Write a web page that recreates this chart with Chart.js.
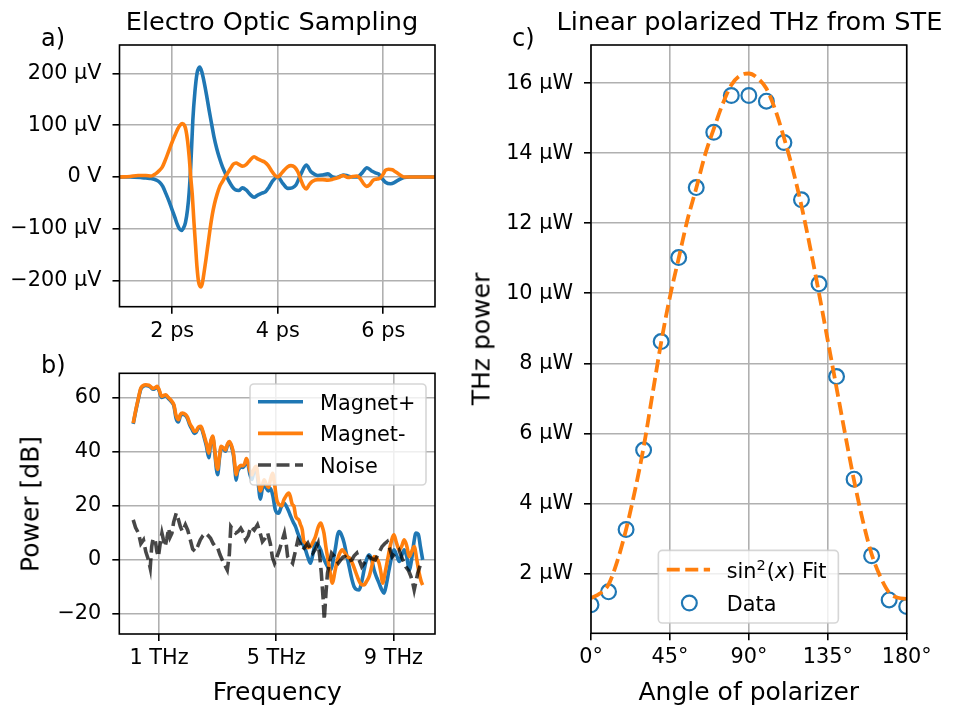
<!DOCTYPE html>
<html><head><meta charset="utf-8">
<script src="https://cdn.jsdelivr.net/npm/chart.js@4.4.1/dist/chart.umd.min.js"></script>
<style>
html,body{margin:0;padding:0;background:#fff;}
#wrap{position:relative;width:953px;height:710px;overflow:hidden;background:#fff;}
canvas{position:absolute;left:0;top:0;}
.t{position:absolute;white-space:nowrap;color:#000;font-family:"DejaVu Sans",sans-serif;line-height:1;}
</style></head><body>
<div id="wrap">
<canvas id="ca" width="953" height="710"></canvas>
<canvas id="cb" width="953" height="710"></canvas>
<canvas id="cc" width="953" height="710"></canvas>
<div class="t" style="font-size:25.6px;left:272px;top:9px;transform:translateX(-50%)">Electro Optic Sampling</div>
<div class="t" style="font-size:25.6px;left:749.5px;top:9px;transform:translateX(-50%)">Linear polarized THz from STE</div>
<div class="t" style="font-size:24px;left:41px;top:26.4px">a)</div>
<div class="t" style="font-size:24px;left:41px;top:352.7px">b)</div>
<div class="t" style="font-size:24px;left:512px;top:26.4px">c)</div>
<div class="t" style="font-size:25px;left:277.3px;top:679px;transform:translateX(-50%)">Frequency</div>
<div class="t" style="font-size:25px;left:748.8px;top:679px;transform:translateX(-50%)">Angle of polarizer</div>
<div class="t" style="font-size:25px;left:30px;top:503.7px;transform:translate(-50%,-50%) rotate(-90deg)">Power [dB]</div>
<div class="t" style="font-size:25px;left:481px;top:339px;transform:translate(-50%,-50%) rotate(-90deg)">THz power</div>
</div>
<script>
// ---------- Panel a: Electro Optic Sampling (time in ps, signal in µV) ----------
const tPlus = [1.0,1.2,1.4,1.5,1.6,1.7,1.76,1.82,1.88,1.94,2.0,2.05,2.09,2.13,2.17,2.21,2.25,2.29,2.32,2.35,2.39,2.43,2.47,2.52,2.56,2.6,2.65,2.7,2.75,2.79,2.84,2.89,2.95,3.01,3.07,3.14,3.2,3.26,3.33,3.4,3.48,3.55,3.62,3.7,3.77,3.83,3.9,4.0,4.1,4.19,4.27,4.34,4.44,4.54,4.63,4.7,4.76,4.85,4.95,5.04,5.1,5.17,5.25,5.33,5.42,5.5,5.6,5.69,5.79,5.85,5.91,5.97,6.04,6.14,6.22,6.3,6.39,6.5,7.0];
const vPlus = [0,0,-1,-2,-3,-6,-10,-18,-32,-47,-64,-78,-90,-99,-103,-99,-88,-62,-30,20,110,165,200,212,203,185,158,128,100,78,56,38,20,6,-7,-19,-25,-26,-21,-25,-34,-39,-35,-31,-28,-20,-8,0,-13,-22,-21,-16,6,23,10,5,3,4,6,0,-1,1,4,2,0,0,8,18,11,8,6,-2,-10,-13,-10,-5,-1,0,0];
const tMinus = [1.0,1.2,1.35,1.5,1.6,1.65,1.69,1.75,1.81,1.87,1.94,2.0,2.05,2.1,2.15,2.19,2.23,2.26,2.29,2.32,2.35,2.38,2.41,2.44,2.47,2.5,2.54,2.57,2.6,2.64,2.68,2.72,2.76,2.8,2.85,2.9,2.95,3.0,3.04,3.1,3.16,3.21,3.27,3.33,3.4,3.47,3.55,3.62,3.68,3.75,3.82,3.88,3.94,4.0,4.06,4.12,4.19,4.25,4.32,4.38,4.44,4.49,4.54,4.6,4.66,4.76,4.85,4.95,5.05,5.15,5.24,5.33,5.42,5.5,5.57,5.62,5.68,5.74,5.81,5.88,5.94,6.0,6.04,6.1,6.17,6.23,6.29,6.35,6.4,6.5,7.0];
const vMinus = [0,1,3,3,2,4,6.5,12,19,33,52,68,80,92,100,103,100,90,70,40,0,-35,-85,-130,-175,-203,-212,-205,-186,-158,-128,-98,-72,-52,-33,-18,-9,0,6,16,25,27,24,21,24,32,39,35,32,29,22,12,4,0,6,13,20,22,19,10,-6,-18,-23,-14,-8,-5,-5,-6,-4,-1,3,-1,1,2,-4,-12,-18,-15,-6,-4,-2,6,13,15,14,10,6,2,0,0,0];
const aYTicks = [-200,-100,0,100,200];
const aYTickLabels = ['\u2212200 µV','\u2212100 µV','0 V','100 µV','200 µV'];
const aXTicks = [2,4,6];
const aXTickLabels = ['2 ps','4 ps','6 ps'];

// ---------- Panel b: spectra (THz, dB) ----------
const freqPlus = [0.12,0.2,0.28,0.38,0.45,0.55,0.65,0.72,0.8,0.88,0.94,1.0,1.09,1.16,1.23,1.3,1.38,1.45,1.51,1.58,1.66,1.73,1.8,1.9,1.97,2.05,2.14,2.2,2.26,2.35,2.43,2.5,2.55,2.62,2.7,2.76,2.83,2.9,2.96,3.0,3.06,3.12,3.2,3.27,3.34,3.4,3.47,3.54,3.6,3.63,3.68,3.74,3.8,3.86,3.93,3.98,4.03,4.1,4.17,4.22,4.27,4.32,4.38,4.46,4.52,4.59,4.66,4.74,4.8,4.88,4.97,5.02,5.08,5.17,5.26,5.34,5.43,5.5,5.58,5.66,5.75,5.83,5.92,6.0,6.08,6.17,6.25,6.34,6.43,6.52,6.6,6.69,6.78,6.86,6.95,7.03,7.09,7.15,7.22,7.32,7.4,7.49,7.58,7.66,7.75,7.83,7.92,8.0,8.08,8.17,8.26,8.34,8.43,8.51,8.6,8.68,8.76,8.85,8.93,9.02,9.1,9.2,9.28,9.37,9.46,9.54,9.62,9.7,9.77,9.85,9.92,10.0];
const dbPlus = [50.3,54.7,58.7,63.2,64.1,64.5,64.3,63.8,63.1,63.5,63.9,62.7,60.1,60.4,60.8,60.0,59.0,58.1,56.9,52.5,51.0,53.3,53.9,53.4,52.3,49.9,48.0,46.8,47.1,48.8,49.0,47.0,45.0,42.0,37.8,43.0,45.4,40.2,33.5,31.5,37.2,41.5,41.0,40.2,42.6,43.4,42.0,38.8,32.5,29.5,32.5,33.8,34.4,34.2,35.2,36.8,35.7,31.8,29.8,31.8,33.4,33.8,29.0,22.5,26,28.5,26.5,25.5,26.5,24,18.5,17.5,17.3,19.5,21,20,17.9,16,14,12.3,9.5,7.4,5.5,3.7,1,-1.2,2,6.2,5.5,3.7,1,-1.2,-3,-3.7,0,4.9,9,10.5,9.5,6.2,2,-2.5,-7,-9.9,-11,-11.1,-8,-3.7,0,1.9,0,-3.7,-6.5,-8.6,-11,-12.3,-9,-3.7,0.5,3.7,2,-0.6,1.5,3.7,1,-3.7,0,6.5,9.9,9.5,5,0];
const freqMinus = [0.12,0.2,0.28,0.38,0.45,0.55,0.65,0.72,0.8,0.88,0.94,1.0,1.09,1.16,1.23,1.3,1.38,1.45,1.51,1.58,1.66,1.73,1.8,1.9,1.97,2.05,2.14,2.2,2.26,2.35,2.43,2.5,2.55,2.62,2.7,2.76,2.83,2.9,2.96,3.0,3.06,3.12,3.2,3.27,3.34,3.4,3.47,3.54,3.6,3.63,3.68,3.74,3.8,3.86,3.93,3.98,4.03,4.1,4.17,4.22,4.27,4.32,4.38,4.46,4.52,4.59,4.66,4.74,4.8,4.88,4.95,5.02,5.1,5.19,5.26,5.3,5.43,5.48,5.55,5.6,5.67,5.77,5.83,5.89,5.94,6.0,6.08,6.17,6.25,6.34,6.43,6.52,6.58,6.63,6.7,6.75,6.83,6.92,7.0,7.09,7.17,7.26,7.35,7.43,7.52,7.6,7.68,7.77,7.88,8.0,8.08,8.17,8.26,8.34,8.43,8.51,8.58,8.63,8.72,8.8,8.9,9.02,9.1,9.2,9.28,9.37,9.46,9.54,9.62,9.71,9.8,9.88,9.95,10.0];
const dbMinus = [50.6,55,59,63.5,64.4,64.8,64.6,64.1,63.4,63.8,64.2,63,60.5,60.8,61.1,60.3,59.4,58.5,57.3,53.5,51.9,53.8,54.3,53.8,52.8,50.5,48.8,47.5,47.6,49.2,49.4,47.5,45.7,43,39.5,43.5,45.8,41,35,33.5,38,42,41.5,40.7,43,43.8,42.5,39.5,34,31.5,33.5,34.5,35,34.8,35.8,37.5,36.4,33,31.5,33,34.2,34.6,30.5,25.5,27.5,29.6,28,26.8,29.5,32,27.5,22.2,20.5,20,22.2,23,24.7,23.5,20.5,20,16,14.8,13,11.1,7,6.2,4.5,4.9,6.5,8.6,12,13.6,12,9.9,4.5,1.2,-4,-8.6,-4.5,0,2.5,3.7,2.5,1.2,0.5,-1.2,-3.5,-6.2,-8.8,-9.3,-8,-6.2,-2.5,1.2,0.5,-1.2,-5,-8.6,-4.5,0,5.5,9.3,6.5,3.7,5,7.4,5,1.2,3,4.9,0,-4.9,-8,-9.3];
const freqNoise = [0.12,0.2,0.3,0.38,0.47,0.55,0.64,0.7,0.75,0.8,0.87,0.93,0.98,1.04,1.1,1.16,1.21,1.27,1.33,1.38,1.44,1.5,1.59,1.66,1.73,1.8,1.9,1.98,2.07,2.15,2.24,2.32,2.41,2.5,2.59,2.68,2.76,2.85,2.92,2.99,3.08,3.16,3.25,3.33,3.4,3.45,3.53,3.62,3.7,3.79,3.88,3.96,4.05,4.13,4.25,4.36,4.45,4.53,4.62,4.71,4.8,4.87,4.94,5.02,5.11,5.2,5.28,5.34,5.39,5.47,5.56,5.65,5.74,5.82,5.91,6.0,6.08,6.17,6.25,6.34,6.43,6.49,6.54,6.6,6.64,6.7,6.75,6.82,6.89,6.97,7.05,7.12,7.2,7.28,7.35,7.45,7.58,7.66,7.75,7.83,7.92,8.02,8.1,8.15,8.26,8.38,8.5,8.61,8.7,8.79,8.88,8.96,9.07,9.19,9.3,9.42,9.52,9.6,9.66,9.71,9.77,9.83,9.94];
const dbNoise = [14.8,12,9.9,6,7.4,3,0,-3,4.9,8,7.4,3,1.2,6,9.9,7,4.9,8,11.7,8.5,9.9,14,17.3,15,12.3,10.5,13,11,7.4,4,3.1,5,7.4,9,9.9,9,8,6,5,4.9,2,0,-2,-3.7,2,12.3,11,9.9,10.5,11.7,10,7.4,9,12.3,11,13,10,6.8,8,9.9,6,1,-1.2,1,3.7,7,9.9,6,1.2,0,-1.2,3,7.4,6,3.7,5,6.2,4,2.5,4,6.2,1,-4.9,-14,-22.2,-12,-4.9,-1,2.5,1.5,0,-1.2,0,1,1.2,-0.5,0,1.5,2.5,0,-2.5,-1,0.5,1.2,0.5,0,2.5,4.9,6,6.8,4,1.2,2.5,3.7,0.5,-2.5,-4,-6.2,-8.5,-11.1,-8,-4.9,-1.2];
const bYTicks = [-20,0,20,40,60];
const bYTickLabels = ['\u221220','0','20','40','60'];
const bXTicks = [1,5,9];
const bXTickLabels = ['1 THz','5 THz','9 THz'];

// ---------- Panel c: power vs polarizer angle (deg, µW) ----------
const angleData = [0,10,20,30,40,50,60,70,80,90,100,110,120,130,140,150,160,170,180];
const powerData = [1.1,1.47,3.25,5.52,8.62,11.02,13.02,14.6,15.65,15.65,15.49,14.31,12.67,10.27,7.62,4.69,2.5,1.24,1.05];
const angleFit = [0,5,10,15,20,25,30,35,40,45,50,55,60,65,70,75,80,85,90,95,100,105,110,115,120,125,130,135,140,145,150,155,160,165,170,175,180];
const powerFit = [1.29,1.42,1.68,2.35,3.25,4.35,5.6,7.1,8.6,9.9,11.0,12.1,13.0,13.95,14.7,15.4,15.95,16.22,16.28,16.15,15.85,15.25,14.45,13.55,12.5,11.3,10.0,8.65,7.3,5.95,4.65,3.5,2.55,1.9,1.45,1.3,1.27];
const cYTicks = [2,4,6,8,10,12,14,16];
const cYTickLabels = ['2 µW','4 µW','6 µW','8 µW','10 µW','12 µW','14 µW','16 µW'];
const cXTicks = [0,45,90,135,180];
const cXTickLabels = ['0°','45°','90°','135°','180°'];

// ---------- helpers ----------
const BLUE = '#1f77b4', ORANGE = '#ff7f0e';
const FONT = '"DejaVu Sans", sans-serif';
const FS = 20.8;
const pts = (xs, ys) => xs.map((x, i) => ({x, y: ys[i]}));

function axis(opts) {
  const {min, max, ticks, labels, fit, isX} = opts;
  return {
    type: 'linear', min, max,
    position: isX ? 'bottom' : 'left',
    afterBuildTicks: s => { s.ticks = ticks.map(v => ({value: v})); },
    afterFit: s => { if (isX) s.height = fit; else s.width = fit; },
    grid: {color: '#b0b0b0', lineWidth: 1.6, drawTicks: true, tickLength: 7, tickColor: '#000', tickWidth: 1.6},
    border: {display: false},
    ticks: {
      color: '#000', font: {family: FONT, size: FS}, padding: isX ? 5 : 11,
      maxRotation: 0, autoSkip: false,
      callback: v => { const i = ticks.indexOf(v); return i >= 0 ? labels[i] : ''; }
    }
  };
}
function roundRect(ctx, x, y, w, h, r) {
  ctx.beginPath(); ctx.moveTo(x + r, y);
  ctx.arcTo(x + w, y, x + w, y + h, r); ctx.arcTo(x + w, y + h, x, y + h, r);
  ctx.arcTo(x, y + h, x, y, r); ctx.arcTo(x, y, x + w, y, r); ctx.closePath();
}
function legendBox(ctx, x, y, w, h) {
  ctx.save();
  roundRect(ctx, x, y, w, h, 4);
  ctx.fillStyle = 'rgba(255,255,255,0.8)'; ctx.fill();
  ctx.strokeStyle = 'rgba(204,204,204,0.8)'; ctx.lineWidth = 1.6; ctx.stroke();
  ctx.restore();
}
function framePlugin(extra) {
  return {
    id: 'frame',
    afterDatasetsDraw(chart) {
      const {ctx, chartArea: a} = chart;
      ctx.save();
      ctx.strokeStyle = '#000'; ctx.lineWidth = 1.6;
      ctx.strokeRect(a.left, a.top, a.right - a.left, a.bottom - a.top);
      ctx.restore();
      if (extra) extra(ctx, a);
    }
  };
}
const common = {
  responsive: false, animation: false, devicePixelRatio: 1,
  plugins: {legend: {display: false}, tooltip: {enabled: false}, title: {display: false}},
  elements: {point: {radius: 0}}
};

// ---------- Panel a ----------
new Chart(document.getElementById('ca'), {
  type: 'line',
  data: {datasets: [
    {data: pts(tMinus, vMinus), borderColor: ORANGE, borderWidth: 3.6, cubicInterpolationMode: 'monotone', pointRadius: 0, clip: 0, order: 1},
    {data: pts(tPlus, vPlus), borderColor: BLUE, borderWidth: 3.6, cubicInterpolationMode: 'monotone', pointRadius: 0, clip: 0, order: 2}
  ]},
  options: Object.assign({}, common, {
    layout: {padding: {left: 0, top: 45, right: 518, bottom: 0}},
    scales: {
      x: axis({min: 1.0, max: 6.98, ticks: aXTicks, labels: aXTickLabels, fit: 403.3, isX: true}),
      y: axis({min: -250.1, max: 254.6, ticks: aYTicks, labels: aYTickLabels, fit: 119.5, isX: false})
    }
  }),
  plugins: [framePlugin()]
});

// ---------- Panel b ----------
new Chart(document.getElementById('cb'), {
  type: 'line',
  data: {datasets: [
    {label: 'Noise', data: pts(freqNoise, dbNoise), borderColor: 'rgba(0,0,0,0.72)', borderWidth: 3.6, borderDash: [13, 5.5], tension: 0, pointRadius: 0, clip: 0, order: 0},
    {label: 'Magnet-', data: pts(freqMinus, dbMinus), borderColor: ORANGE, borderWidth: 3.6, cubicInterpolationMode: 'monotone', pointRadius: 0, clip: 0, order: 1},
    {label: 'Magnet+', data: pts(freqPlus, dbPlus), borderColor: BLUE, borderWidth: 3.6, cubicInterpolationMode: 'monotone', pointRadius: 0, clip: 0, order: 2}
  ]},
  options: Object.assign({}, common, {
    layout: {padding: {left: 0, top: 373.3, right: 518, bottom: 0}},
    scales: {
      x: axis({min: -0.355, max: 10.42, ticks: bXTicks, labels: bXTickLabels, fit: 76, isX: true}),
      y: axis({min: -27.4, max: 69.02, ticks: bYTicks, labels: bYTickLabels, fit: 119.3, isX: false})
    }
  }),
  plugins: [framePlugin((ctx, a) => {
    const w = 176, h = 101, x = a.right - 9 - w, y = a.top + 10.7;
    legendBox(ctx, x, y, w, h);
    const rows = [
      {t: 'Magnet+', c: BLUE, dash: []},
      {t: 'Magnet-', c: ORANGE, dash: []},
      {t: 'Noise', c: 'rgba(0,0,0,0.72)', dash: [13, 5.5]}
    ];
    ctx.save();
    ctx.font = FS + 'px ' + FONT; ctx.fillStyle = '#000'; ctx.textBaseline = 'alphabetic';
    rows.forEach((r, i) => {
      const ry = y + 17.7 + i * 31.65;
      ctx.beginPath(); ctx.setLineDash(r.dash); ctx.strokeStyle = r.c; ctx.lineWidth = 3.6;
      ctx.moveTo(x + 8, ry); ctx.lineTo(x + 53, ry); ctx.stroke();
      ctx.setLineDash([]);
      ctx.fillText(r.t, x + 70, ry + 7.8);
    });
    ctx.restore();
  })]
});

// ---------- Panel c ----------
new Chart(document.getElementById('cc'), {
  type: 'line',
  data: {datasets: [
    {label: 'sin²(x) Fit', data: pts(angleFit, powerFit), borderColor: ORANGE, borderWidth: 3.8, borderDash: [13, 5.5], cubicInterpolationMode: 'monotone', pointRadius: 0, clip: 0, order: 0},
    {label: 'Data', data: pts(angleData, powerData), showLine: false, borderColor: BLUE, backgroundColor: 'rgba(0,0,0,0)', pointRadius: 7.4, pointBorderWidth: 2.2, pointStyle: 'circle', pointBorderColor: BLUE, pointBackgroundColor: 'rgba(0,0,0,0)', clip: 0, order: 1}
  ]},
  options: Object.assign({}, common, {
    layout: {padding: {left: 0, top: 45, right: 46.3, bottom: 0}},
    scales: {
      x: axis({min: 0, max: 180, ticks: cXTicks, labels: cXTickLabels, fit: 76.7, isX: true}),
      y: axis({min: 0.286, max: 17.094, ticks: cYTicks, labels: cYTickLabels, fit: 591, isX: false})
    }
  }),
  plugins: [framePlugin((ctx, a) => {
    const w = 180, h = 72.6, x = (a.left + a.right) / 2 - w / 2 - 0.5, y = a.bottom - 10.3 - h;
    legendBox(ctx, x, y, w, h);
    ctx.save();
    const r1 = y + 19.3, r2 = y + 52.6;
    ctx.beginPath(); ctx.setLineDash([13, 5.5]); ctx.strokeStyle = ORANGE; ctx.lineWidth = 3.8;
    ctx.moveTo(x + 8.4, r1); ctx.lineTo(x + 51.7, r1); ctx.stroke(); ctx.setLineDash([]);
    ctx.beginPath(); ctx.strokeStyle = BLUE; ctx.lineWidth = 2.2;
    ctx.arc(x + 31, r2, 7.4, 0, Math.PI * 2); ctx.stroke();
    ctx.fillStyle = '#000'; ctx.textBaseline = 'alphabetic';
    let tx = x + 68.4; const base = r1 + 8.5;
    const seg = (txt, font, dy) => { ctx.font = font; ctx.fillText(txt, tx, base + (dy || 0)); tx += ctx.measureText(txt).width; };
    seg('sin', FS + 'px ' + FONT);
    seg('2', (FS * 0.7) + 'px ' + FONT, -8.5);
    tx += 1;
    seg('(', FS + 'px ' + FONT);
    seg('x', 'italic ' + FS + 'px ' + FONT);
    seg(') Fit', FS + 'px ' + FONT);
    ctx.font = FS + 'px ' + FONT;
    ctx.fillText('Data', x + 68.4, r2 + 7.8);
    ctx.restore();
  })]
});
</script>
</body></html>
